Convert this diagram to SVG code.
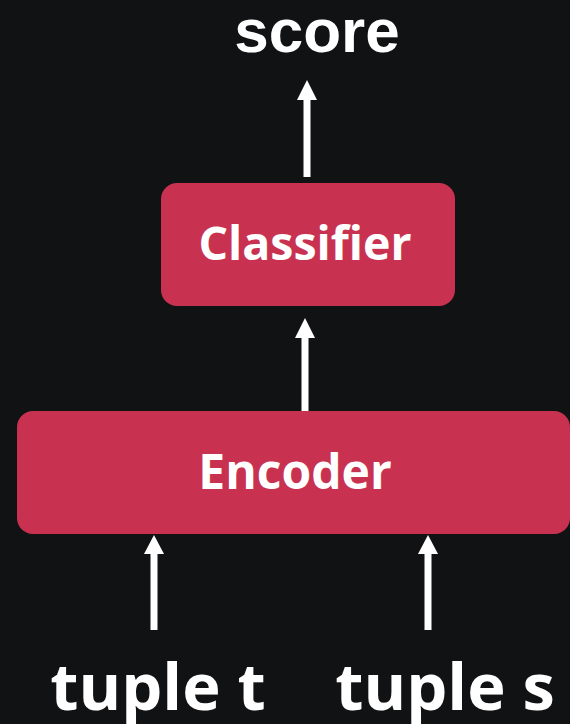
<svg xmlns="http://www.w3.org/2000/svg" width="570" height="724" viewBox="0 0 570 724">
  <defs>
    <style>
      .box { fill: #c83250; }
      .lbl { fill: #ffffff; font-family: "Open Sans", "Noto Sans", sans-serif; font-weight: 700; text-anchor: middle; }
      .io { fill: #ffffff; font-family: "Liberation Sans", Arial, sans-serif; font-weight: 700; text-anchor: middle; }
      .wire { stroke: #ffffff; stroke-width: 7; fill: none; }
      .head { fill: #ffffff; }
    </style>
  </defs>
  <rect width="570" height="724" fill="#111214"/>

  <g id="connectors">
    <!-- classifier -> score -->
    <line class="wire" x1="307" y1="177" x2="307" y2="96"/>
    <polygon class="head" points="307,80 297,100 317,100"/>
    <!-- encoder -> classifier -->
    <line class="wire" x1="305" y1="411" x2="305" y2="334"/>
    <polygon class="head" points="305,318 295,338 315,338"/>
    <!-- tuple t -> encoder -->
    <line class="wire" x1="154" y1="630" x2="154" y2="550"/>
    <polygon class="head" points="154,535 144,554 164,554"/>
    <!-- tuple s -> encoder -->
    <line class="wire" x1="428" y1="630" x2="428" y2="550"/>
    <polygon class="head" points="428,535 418,554 438,554"/>
  </g>

  <g id="score">
    <text class="io" x="317" y="52" font-size="62">score</text>
  </g>

  <g id="classifier">
    <rect class="box" x="161" y="183" width="294" height="123" rx="16"/>
    <text class="lbl" x="305" y="260" font-size="46.5">Classifier</text>
  </g>

  <g id="encoder">
    <rect class="box" x="17" y="411" width="553" height="123" rx="16"/>
    <text class="lbl" x="295" y="489" font-size="48">Encoder</text>
  </g>

  <g id="tuple-t">
    <text class="lbl" x="158" y="710" font-size="65">tuple t</text>
  </g>

  <g id="tuple-s">
    <text class="lbl" x="445" y="710" font-size="65">tuple s</text>
  </g>
</svg>
